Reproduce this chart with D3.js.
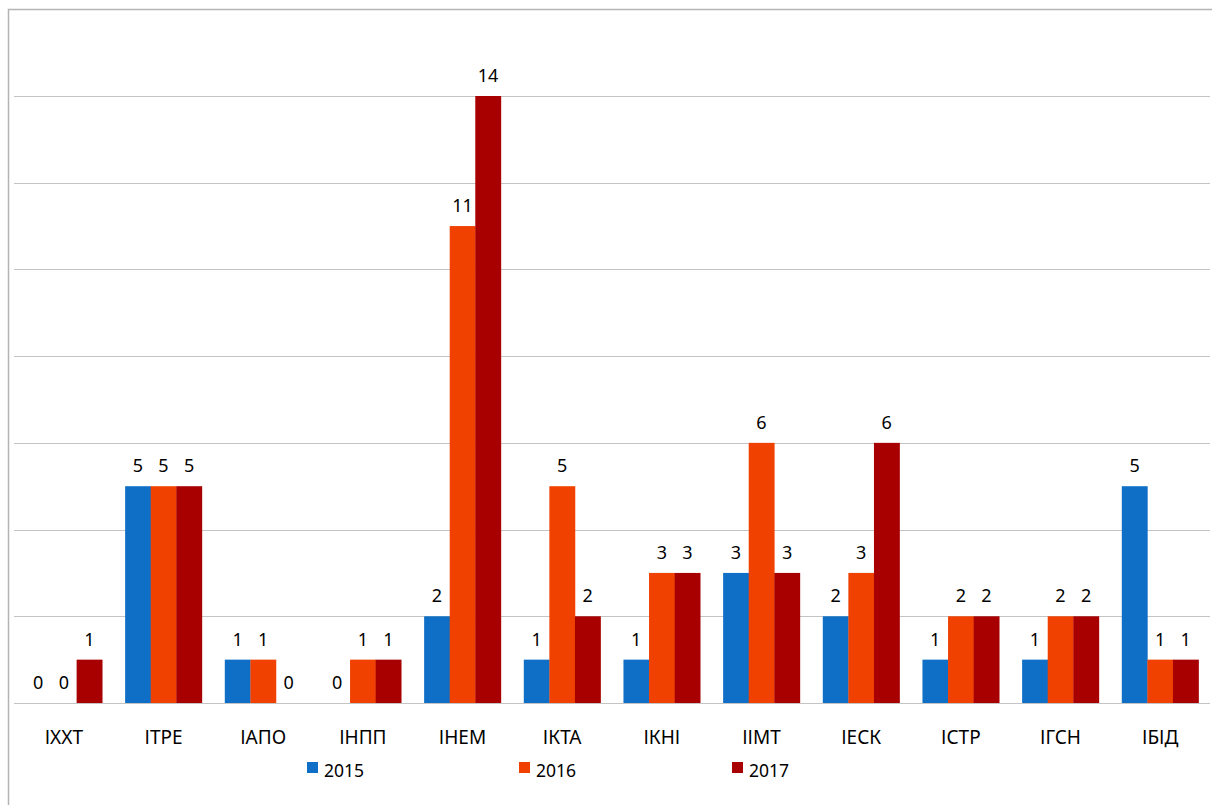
<!DOCTYPE html>
<html>
<head>
<meta charset="utf-8">
<script src="https://cdn.jsdelivr.net/npm/d3@7"></script>
<style>
  html, body { margin: 0; padding: 0; background: #fff; }
  svg { display: block; font-family: "Noto Sans", "DejaVu Sans", sans-serif; }
</style>
</head>
<body>
<div id="chart"></div>
<script>
const categories = ['ІХХТ', 'ІТРЕ', 'ІАПО', 'ІНПП', 'ІНЕМ', 'ІКТА', 'ІКНІ', 'ІІМТ', 'ІЕСК', 'ІСТР', 'ІГСН', 'ІБІД'];
const years = ['2015', '2016', '2017'];
const v2015 = [0, 5, 1, 0, 2, 1, 1, 3, 2, 1, 1, 5];
const v2016 = [0, 5, 1, 1, 11, 5, 3, 6, 3, 2, 2, 1];
const v2017 = [1, 5, 0, 1, 14, 2, 3, 3, 6, 2, 2, 1];
const yTicks = [0, 2, 4, 6, 8, 10, 12, 14];
const colors = ['#0f6fc6', '#f04100', '#a80000'];

const series = [v2015, v2016, v2017];
const w = 1212, h = 805;

const svg = d3.select('#chart').append('svg')
  .attr('width', w).attr('height', h);

// chart border (only top and left visible in the frame)
svg.append('rect')
  .attr('x', 8.5).attr('y', 9.5)
  .attr('width', 1220).attr('height', 820)
  .attr('fill', 'none').attr('stroke', '#b4b4b4').attr('stroke-width', 1.5);

const x0 = d3.scaleBand()
  .domain(categories)
  .range([14, 1210])
  .paddingInner(0.23)
  .paddingOuter(0.115);

const x1 = d3.scaleBand()
  .domain(years)
  .range([0, x0.bandwidth()]);

const y = d3.scaleLinear()
  .domain([0, 14])
  .range([703, 96]);

// gridlines
svg.append('g').selectAll('line')
  .data(yTicks)
  .join('line')
  .attr('x1', 14).attr('x2', 1210)
  .attr('y1', d => Math.round(y(d)) + 0.5)
  .attr('y2', d => Math.round(y(d)) + 0.5)
  .attr('stroke', '#c4c4c4')
  .attr('stroke-width', 1);

// bars
const groups = svg.append('g').selectAll('g')
  .data(categories)
  .join('g')
  .attr('transform', d => `translate(${x0(d)},0)`);

groups.selectAll('rect')
  .data((c, i) => years.map((yr, k) => ({ yr, k, v: series[k][i] })))
  .join('rect')
  .attr('x', d => x1(d.yr))
  .attr('width', x1.bandwidth() + 0.3)
  .attr('y', d => y(d.v))
  .attr('height', d => y(0) - y(d.v))
  .attr('fill', d => colors[d.k]);

groups.selectAll('text')
  .data((c, i) => years.map((yr, k) => ({ yr, k, v: series[k][i] })))
  .join('text')
  .attr('x', d => x1(d.yr) + x1.bandwidth() / 2)
  .attr('y', d => y(d.v) - 14)
  .attr('text-anchor', 'middle')
  .attr('font-size', 18)
  .attr('fill', '#000')
  .text(d => d.v);

// category labels
const xAxis = svg.append('g')
  .attr('transform', 'translate(0,703)')
  .call(d3.axisBottom(x0).tickSize(0).tickPadding(0));
xAxis.select('.domain').remove();
xAxis.selectAll('text')
  .attr('dy', 0)
  .attr('y', 41)
  .attr('font-size', 19)
  .attr('font-family', '"Noto Sans", sans-serif')
  .attr('fill', '#000');

// legend
const legendX = [307, 519, 732];
const legend = svg.append('g').selectAll('g')
  .data(years)
  .join('g')
  .attr('transform', (d, i) => `translate(${legendX[i]},762)`);
legend.append('rect')
  .attr('width', 11).attr('height', 11)
  .attr('fill', (d, i) => colors[i]);
legend.append('text')
  .attr('x', 17).attr('y', 15)
  .attr('font-size', 17.5)
  .attr('fill', '#000')
  .text(d => d);
</script>
</body>
</html>
